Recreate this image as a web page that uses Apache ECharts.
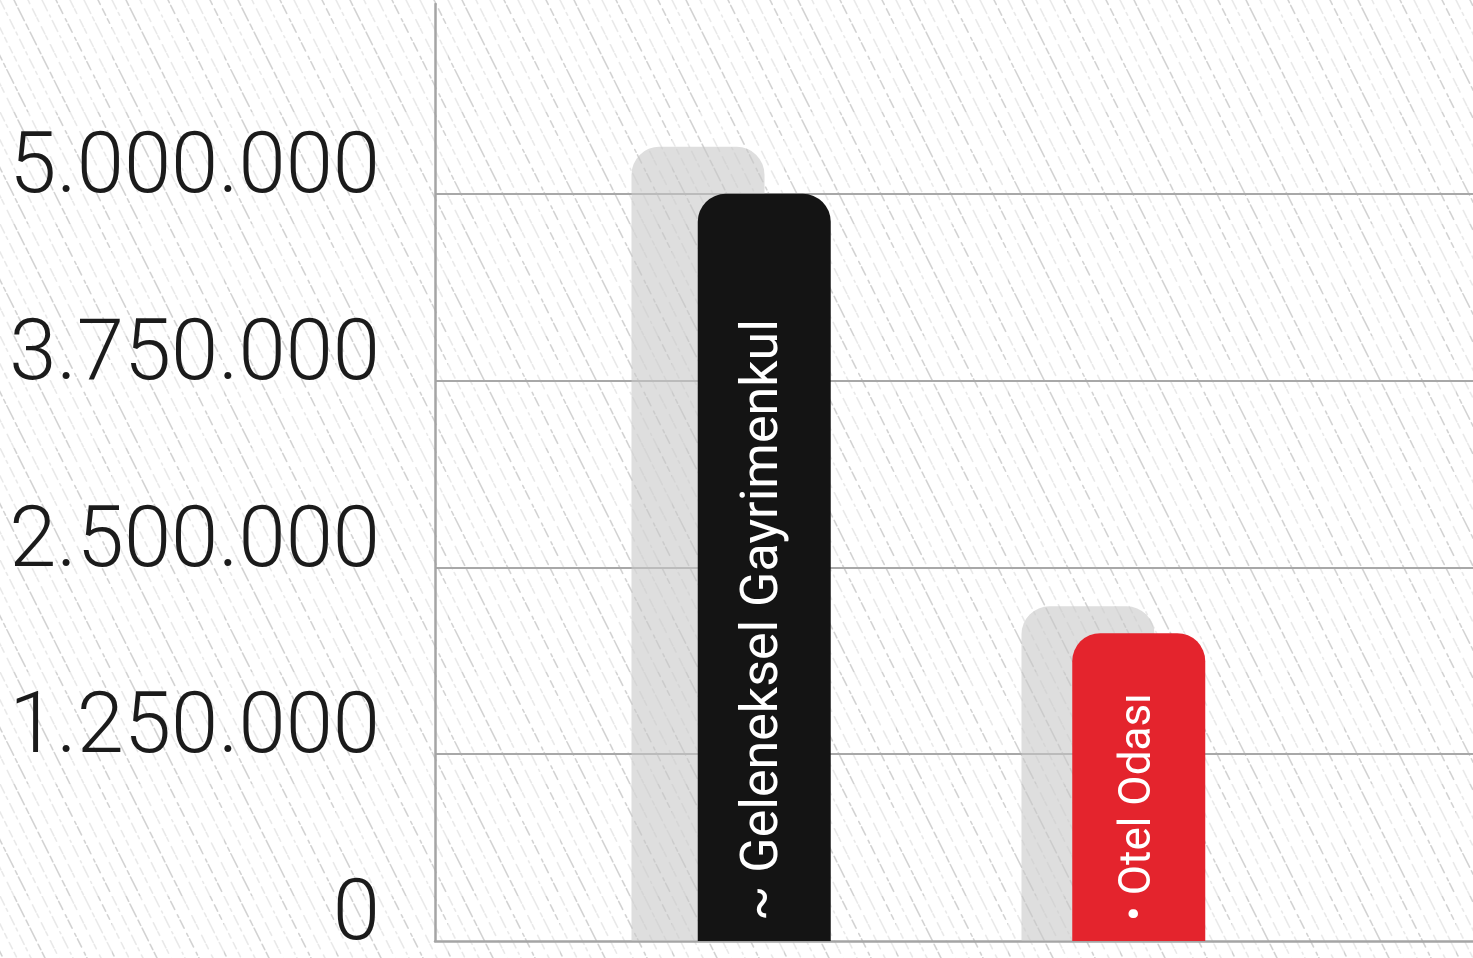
<!DOCTYPE html>
<html><head><meta charset="utf-8">
<script src="https://cdn.jsdelivr.net/npm/echarts@6/dist/echarts.min.js"></script>
<style>html,body{margin:0;padding:0;background:#fff}#c{width:1473px;height:958px}</style>
</head><body><div id="c"></div>
<script>
// ---- data ----
const categories = ['Geleneksel Gayrimenkul', 'Otel Odası'];
const labelMarks = ['~', '•'];
const values = [5000000, 2060000];
const shadowValues = [5315000, 2240000];
const yTickLabels = ['0', '1.250.000', '2.500.000', '3.750.000', '5.000.000'];
const gridValues = [1250000, 2500000, 3750000, 5000000];
const yMin = 0, yMax = 6270000, yInterval = 1250000;
const barColors = ['#141414', '#e4242d'];
const labelSizes = [52, 44];

const AXIS_FONT = "Roboto, 'Open Sans', sans-serif";
const BAR_FONT = "Roboto, 'Open Sans', sans-serif";

function makeHatch() {
  const W = 112, H = 112, s = 14;
  const c = document.createElement('canvas'); c.width = W; c.height = H;
  const g = c.getContext('2d');
  g.fillStyle = '#ffffff'; g.fillRect(0, 0, W, H);
  const dashSets = [[10,4,3,5],[6,3,14,4],[4,6,8,2],[12,5,2,4],[3,3,9,6],[8,2,5,7],[15,4,4,3],[5,5,7,4]];
  g.lineWidth = 1.6; g.lineCap = 'round';
  let k = 0;
  for (let x0 = -2 * W; x0 <= 2 * W; x0 += s) {
    g.setLineDash(dashSets[k % dashSets.length]); k++;
    g.strokeStyle = k % 3 === 0 ? 'rgba(140,140,140,0.38)' : 'rgba(175,175,175,0.28)';
    g.beginPath(); g.moveTo(x0, 0); g.lineTo(x0 + 0.5 * H, H); g.stroke();
  }
  return c;
}

const chart = echarts.init(document.getElementById('c'), null, {renderer: 'canvas'});
const axisGray = '#a5a5a5';
const gridBase = {top: 4, bottom: 17, containLabel: false, outerBoundsMode: 'none'};
const option = {
  backgroundColor: {image: makeHatch(), repeat: 'repeat'},
  animation: false,
  grid: [
    Object.assign({left: 435, right: 0}, gridBase),
    Object.assign({left: 577, right: 147}, gridBase),
    Object.assign({left: 503, right: 190}, gridBase)
  ],
  xAxis: [
    {type: 'category', gridIndex: 0, data: categories,
     axisLine: {show: true, lineStyle: {color: axisGray, width: 2.5}},
     axisTick: {show: false}, axisLabel: {show: false}, splitLine: {show: false}},
    {type: 'category', gridIndex: 1, data: categories, show: false},
    {type: 'category', gridIndex: 2, data: categories, show: false}
  ],
  yAxis: [
    {type: 'value', gridIndex: 0, min: yMin, max: yMax, interval: yInterval,
     axisLine: {show: true, lineStyle: {color: axisGray, width: 2.5}},
     axisTick: {show: false},
     axisLabel: {
       formatter: v => { const i = Math.round(v / yInterval); return (Math.abs(v - i * yInterval) < 1 && yTickLabels[i] !== undefined) ? yTickLabels[i] : ''; },
       showMaxLabel: false, margin: 55, fontSize: 85, fontWeight: 300, fontFamily: AXIS_FONT, color: '#1b1b1b',
       verticalAlign: 'bottom', lineHeight: 46
     },
     splitLine: {show: false}},
    {type: 'value', gridIndex: 1, min: yMin, max: yMax, show: false},
    {type: 'value', gridIndex: 2, min: yMin, max: yMax, show: false}
  ],
  series: [
    {type: 'line', xAxisIndex: 0, yAxisIndex: 0, data: [null, null], silent: true, z: 0,
     symbol: 'none',
     markLine: {silent: true, z: 0, symbol: 'none', label: {show: false},
                lineStyle: {color: '#a8a8a8', width: 2, type: 'solid'},
                emphasis: {disabled: true},
                data: gridValues.map(v => ({yAxis: v}))}},
    {type: 'bar', xAxisIndex: 2, yAxisIndex: 2, data: shadowValues, barWidth: 133, silent: true, z: 1,
     itemStyle: {color: 'rgba(200,200,200,0.6)', borderRadius: [28, 28, 0, 0]}},
    {type: 'bar', xAxisIndex: 1, yAxisIndex: 1, barWidth: 133, z: 3, silent: true,
     data: values.map((v, i) => ({value: v, itemStyle: {color: barColors[i]}, label: {fontSize: labelSizes[i]}})),
     itemStyle: {borderRadius: [28, 28, 0, 0]},
     label: {show: true, position: 'insideBottom', distance: 20, rotate: 90, align: 'left', verticalAlign: 'middle',
             color: '#ffffff', fontFamily: BAR_FONT,
             formatter: p => labelMarks[p.dataIndex] + ' ' + categories[p.dataIndex]}}
  ]
};
chart.setOption(option);
</script>
</body></html>
